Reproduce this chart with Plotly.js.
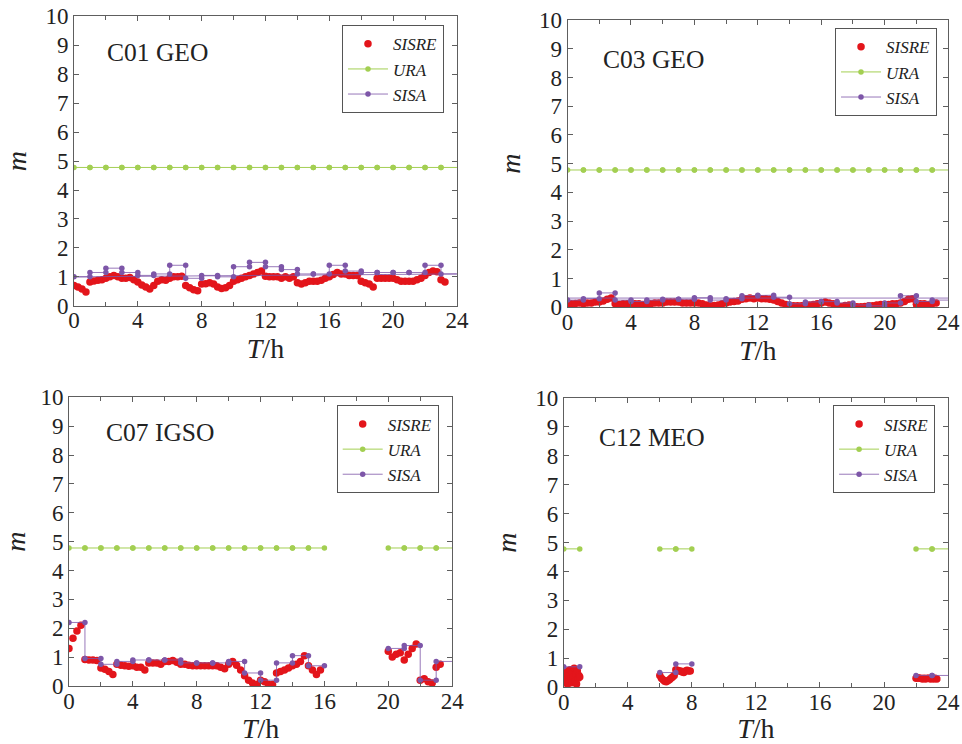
<!DOCTYPE html>
<html><head><meta charset="utf-8">
<script src="https://cdn.plot.ly/plotly-3.0.1.min.js"></script>
<style>html,body{margin:0;padding:0;background:#fff}#chart{width:962px;height:744px}</style>
</head><body><div id="chart"></div>
<script>
// ---------- data ----------
const panelLabels = ['C01 GEO', 'C03 GEO', 'C07 IGSO', 'C12 MEO'];
const seriesNames = ['SISRE', 'URA', 'SISA'];
const xTickVals = [0, 4, 8, 12, 16, 20, 24];
const yTickVals = [0, 1, 2, 3, 4, 5, 6, 7, 8, 9, 10];
const sisreStepHours = 0.25;   // SISRE sampled every 15 min (panels C01, C03, C07)

// SISRE (m), 15-min samples starting at 0 h
const c01Sisre = [
  0.70, 0.65, 0.58, 0.48,  0.82, 0.86, 0.88, 0.90,  0.95, 1.00, 1.05, 1.00,  0.95, 0.95, 0.98, 0.90,
  0.82, 0.72, 0.65, 0.58,  0.70, 0.85, 0.90, 0.88,  0.95, 1.00, 1.00, 1.02,  0.70, 0.62, 0.55, 0.52,
  0.75, 0.76, 0.80, 0.75,  0.65, 0.60, 0.62, 0.70,  0.85, 0.90, 0.95, 1.00,  1.05, 1.10, 1.15, 1.20,
  1.02, 1.00, 1.00, 1.00,  0.95, 1.00, 0.95, 1.00,  0.80, 0.75, 0.80, 0.85,  0.85, 0.85, 0.88, 0.95,
  1.00, 1.08, 1.15, 1.10,  1.10, 1.05, 1.05, 1.05,  0.85, 0.80, 0.75, 0.65,  0.95, 0.95, 0.95, 0.95,
  0.95, 0.90, 0.85, 0.85,  0.85, 0.85, 0.90, 0.95,  1.05, 1.15, 1.20, 1.18,  0.90, 0.82
];
const c03Sisre = [
  0.12, 0.12, 0.13, 0.15,  0.12, 0.15, 0.15, 0.18,  0.18, 0.22, 0.28, 0.32,  0.12, 0.10, 0.12, 0.12,
  0.10, 0.12, 0.12, 0.10,  0.12, 0.12, 0.15, 0.15,  0.15, 0.18, 0.18, 0.18,  0.18, 0.15, 0.15, 0.15,
  0.15, 0.15, 0.12, 0.08,  0.05, 0.06, 0.08, 0.12,  0.15, 0.18, 0.20, 0.22,  0.28, 0.30, 0.32, 0.30,
  0.32, 0.30, 0.30, 0.28,  0.25, 0.20, 0.15, 0.10,  0.05, 0.05, 0.05, 0.05,  0.08, 0.08, 0.10, 0.12,
  0.15, 0.18, 0.15, 0.12,  0.05, 0.03, 0.06, 0.08,  0.03, 0.02, 0.02, 0.03,  0.05, 0.05, 0.08, 0.10,
  0.10, 0.10, 0.12, 0.12,  0.15, 0.20, 0.28, 0.30,  0.10, 0.12, 0.12, 0.10,  0.12, 0.15
];
const c07Sisre = [
  1.30, 1.65, 1.90, 2.10,  0.92, 0.90, 0.90, 0.88,  0.62, 0.58, 0.50, 0.40,  0.75, 0.72, 0.70, 0.68,
  0.70, 0.65, 0.65, 0.55,  0.80, 0.80, 0.80, 0.75,  0.85, 0.85, 0.88, 0.82,  0.75, 0.75, 0.72, 0.70,
  0.70, 0.70, 0.70, 0.70,  0.70, 0.70, 0.65, 0.60,  0.75, 0.85, 0.72, 0.55,  0.35, 0.20, 0.10, 0.05,
  0.20, 0.15, 0.05, 0.05,  0.45, 0.50, 0.55, 0.62,  0.70, 0.75, 0.85, 1.05,  0.70, 0.55, 0.40, 0.55,
  null, null, null, null,  null, null, null, null,  null, null, null, null,  null, null, null, null,
  1.20, 1.00, 1.10, 1.15,  0.90, 1.10, 1.30, 1.45,  0.20, 0.25, 0.15, 0.10,  0.65, 0.75
];
// C12 is only visible in three short windows: explicit times (h) and values (m)
const c12SisreTime = [
  0.00, 0.05, 0.10, 0.15, 0.20, 0.25, 0.30, 0.35, 0.40, 0.45, 0.50, 0.55, 0.60, 0.65, 0.70, 0.75, 0.80, 0.85, 0.90, 0.95, 1.00,
  6.0, 6.1, 6.2, 6.3, 6.4, 6.5, 6.6, 6.7, 6.8, 6.9,
  7.0, 7.1, 7.2, 7.3, 7.4, 7.5, 7.6, 7.7, 7.8, 7.9,
  22.0, 22.1, 22.2, 22.3, 22.4, 22.5, 22.6, 22.7, 22.8, 22.9, 23.0, 23.1, 23.2, 23.3
];
const c12SisreValue = [
  0.30, 0.15, 0.45, 0.25, 0.55, 0.10, 0.40, 0.20, 0.60, 0.30, 0.15, 0.50, 0.35, 0.65, 0.20, 0.45, 0.10, 0.55, 0.30, 0.40, 0.35,
  0.40, 0.30, 0.25, 0.20, 0.18, 0.22, 0.25, 0.30, 0.35, 0.40,
  0.60, 0.58, 0.55, 0.55, 0.52, 0.50, 0.55, 0.58, 0.55, 0.55,
  0.30, 0.32, 0.30, 0.30, 0.28, 0.30, 0.28, 0.30, 0.30, 0.28, 0.30, 0.28, 0.30, 0.28
];

// URA (m), one value per hour 0..23 (null = not broadcast)
const c01Ura = [4.78,4.78,4.78,4.78,4.78,4.78,4.78,4.78,4.78,4.78,4.78,4.78,4.78,4.78,4.78,4.78,4.78,4.78,4.78,4.78,4.78,4.78,4.78,4.78];
const c03Ura = [4.78,4.78,4.78,4.78,4.78,4.78,4.78,4.78,4.78,4.78,4.78,4.78,4.78,4.78,4.78,4.78,4.78,4.78,4.78,4.78,4.78,4.78,4.78,4.78];
const c07Ura = [4.78,4.78,4.78,4.78,4.78,4.78,4.78,4.78,4.78,4.78,4.78,4.78,4.78,4.78,4.78,4.78,null,null,null,null,4.78,4.78,4.78,4.78];
const c12Ura = [4.78,null,null,null,null,null,4.78,4.78,null,null,null,null,null,null,null,null,null,null,null,null,null,null,4.78,4.78];

// SISA (m), one value per hour 0..23
const c01Sisa = [1.00,1.15,1.30,1.15,1.05,1.10,1.40,0.95,1.05,1.00,1.35,1.50,1.35,1.25,1.10,1.10,1.40,1.20,1.15,1.15,1.15,1.15,1.40,1.10];
const c03Sisa = [0.25,0.30,0.50,0.25,0.20,0.25,0.28,0.28,0.33,0.25,0.30,0.40,0.42,0.35,0.12,0.18,0.20,0.15,0.08,0.05,0.15,0.40,0.20,0.25];
const c07Sisa = [2.20,0.95,0.75,0.85,0.90,0.90,0.90,0.80,0.80,0.80,0.85,0.45,0.20,0.80,1.05,0.70,null,null,null,null,1.30,1.40,0.20,0.85];
const c12Sisa = [0.70,null,null,null,null,null,0.50,0.80,null,null,null,null,null,null,null,null,null,null,null,null,null,null,0.40,0.40];
// thin SISA reference line across the day (start, end), where drawn
const c01SisaLine = [1.00, 1.10];
const c03SisaLine = [0.32, 0.32];

// ---------- styles ----------
const FONT = 'Liberation Serif, serif';
const RED = '#e3151b', GREEN = '#a3cf52', PURPLE = '#7d56a8', FRAME = '#5e5e5e';
const DAY_END = 24;

function gridTimes(values) { return values.map((v, i) => i * sisreStepHours); }
// hourly values -> step line with a marker at both ends of each hour;
// the piece that reaches the right frame (24 h) goes to a line-only tail
function hourSteps(hourly) {
  const x = [], y = [], tx = [], ty = [];
  hourly.forEach((v, h) => {
    if (v === null) return;
    if (x.length && x[x.length - 1] !== h) { x.push(null); y.push(null); }
    if (h + 1 === DAY_END) { x.push(h); y.push(v); tx.push(h, DAY_END); ty.push(v, v); }
    else { x.push(h, h + 1); y.push(v, v); }
  });
  return { x, y, tx, ty };
}

const panels = [
  { label: panelLabels[0], sx: gridTimes(c01Sisre), sy: c01Sisre, ura: c01Ura, sisa: c01Sisa, line: c01SisaLine },
  { label: panelLabels[1], sx: gridTimes(c03Sisre), sy: c03Sisre, ura: c03Ura, sisa: c03Sisa, line: c03SisaLine },
  { label: panelLabels[2], sx: gridTimes(c07Sisre), sy: c07Sisre, ura: c07Ura, sisa: c07Sisa, line: null },
  { label: panelLabels[3], sx: c12SisreTime, sy: c12SisreValue, ura: c12Ura, sisa: c12Sisa, line: null }
];

const xDomains = [[0.0769, 0.475], [0.590, 0.9855], [0.0717, 0.470], [0.586, 0.9855]];
const yDomains = [[0.589, 0.978], [0.587, 0.973], [0.078, 0.466], [0.0766, 0.465]];
const legendPos = [[0.3555, 0.966], [0.868, 0.962], [0.350, 0.455], [0.866, 0.455]];
const labelPos = [[1.94, 8.76], [2.08, 8.64], [2.19, 8.79], [2.06, 8.65]];

const traces = [];
const layout = {
  width: 962, height: 744,
  margin: { l: 0, r: 0, t: 0, b: 0 },
  paper_bgcolor: '#fff', plot_bgcolor: '#fff',
  font: { family: FONT, color: '#222' },
  showlegend: true,
  annotations: []
};

panels.forEach((p, i) => {
  const n = i === 0 ? '' : String(i + 1);
  const xa = 'x' + n, ya = 'y' + n, lg = 'legend' + n;
  const ura = hourSteps(p.ura), sisa = hourSteps(p.sisa);
  traces.push({
    type: 'scatter', mode: 'markers', name: seriesNames[0], x: p.sx, y: p.sy,
    xaxis: xa, yaxis: ya, legend: lg,
    marker: { color: RED, size: 7.5, line: { width: 0 } }
  });
  traces.push({
    type: 'scatter', mode: 'lines+markers', name: seriesNames[1], x: ura.x, y: ura.y,
    xaxis: xa, yaxis: ya, legend: lg, connectgaps: false,
    line: { color: GREEN, width: 1 }, marker: { color: GREEN, size: 5.5 }
  });
  if (ura.tx.length) {
    traces.push({
      type: 'scatter', mode: 'lines', x: ura.tx, y: ura.ty, showlegend: false,
      xaxis: xa, yaxis: ya, line: { color: GREEN, width: 1 }, hoverinfo: 'skip'
    });
  }
  if (p.line) {
    traces.push({
      type: 'scatter', mode: 'lines', x: [0, DAY_END], y: p.line, showlegend: false,
      xaxis: xa, yaxis: ya, line: { color: PURPLE, width: 0.8 }, hoverinfo: 'skip'
    });
  }
  traces.push({
    type: 'scatter', mode: 'lines+markers', name: seriesNames[2], x: sisa.x, y: sisa.y,
    xaxis: xa, yaxis: ya, legend: lg, connectgaps: false,
    line: { color: PURPLE, width: 0.8 }, marker: { color: PURPLE, size: 5.5 }
  });
  if (sisa.tx.length) {
    traces.push({
      type: 'scatter', mode: 'lines', x: sisa.tx, y: sisa.ty, showlegend: false,
      xaxis: xa, yaxis: ya, line: { color: PURPLE, width: 0.8 }, hoverinfo: 'skip'
    });
  }

  const axCommon = {
    showline: true, mirror: 'ticks', linecolor: FRAME, linewidth: 1,
    ticks: 'inside', tickcolor: FRAME, ticklen: 5, tickwidth: 1,
    showgrid: false, zeroline: false, fixedrange: true,
    tickfont: { family: FONT, size: 23, color: '#222' }
  };
  layout['xaxis' + n] = Object.assign({}, axCommon, {
    domain: xDomains[i], anchor: ya, range: [0, DAY_END], tickmode: 'array', tickvals: xTickVals,
    ticklabelstandoff: -6,
    minor: { dtick: 2, ticks: 'inside', ticklen: 4, tickcolor: FRAME, showgrid: false },
    title: { text: '<i>T</i>/h', font: { family: FONT, size: 28, color: '#222' }, standoff: 2 }
  });
  layout['yaxis' + n] = Object.assign({}, axCommon, {
    domain: yDomains[i], anchor: xa, range: [0, 10], tickmode: 'array', tickvals: yTickVals,
    title: { text: '<i>m</i>', font: { family: FONT, size: 28, color: '#222' }, standoff: 10 }
  });
  layout[lg] = {
    x: legendPos[i][0], y: legendPos[i][1], xanchor: 'left', yanchor: 'top',
    bgcolor: '#fff', bordercolor: '#555', borderwidth: 1,
    font: { family: FONT, size: 17, color: '#222', style: 'italic' },
    itemwidth: 40, tracegroupgap: 0
  };
  layout.annotations.push({
    xref: xa, yref: ya, x: labelPos[i][0], y: labelPos[i][1], xanchor: 'left', yanchor: 'middle',
    text: p.label, showarrow: false, font: { family: FONT, size: 25.5, color: '#222' }
  });
});

Plotly.newPlot('chart', traces, layout, { displayModeBar: false, staticPlot: true });
</script>
</body></html>
